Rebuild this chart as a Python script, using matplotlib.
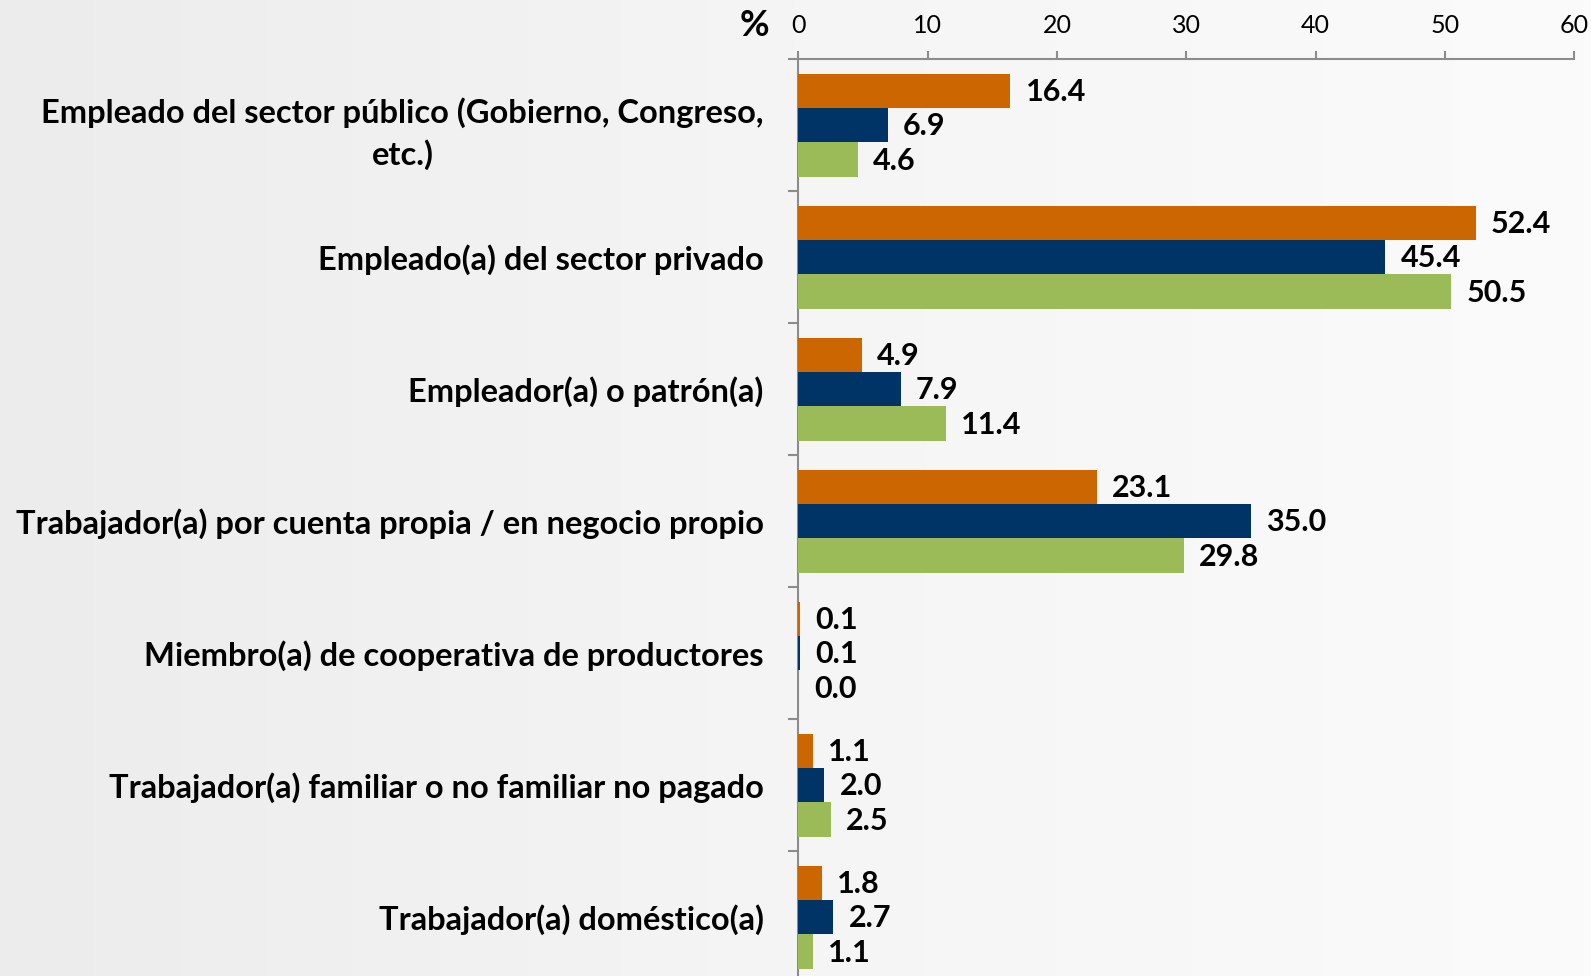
import matplotlib.pyplot as plt
import numpy as np

# datos (%)
categorias = [
    'Empleado del sector público (Gobierno, Congreso,\netc.)',
    'Empleado(a) del sector privado',
    'Empleador(a) o patrón(a)',
    'Trabajador(a) por cuenta propia / en negocio propio',
    'Miembro(a) de cooperativa de productores',
    'Trabajador(a) familiar o no familiar no pagado',
    'Trabajador(a) doméstico(a)',
]
serie_naranja = [16.4, 52.4, 4.9, 23.1, 0.1, 1.1, 1.8]
serie_azul = [6.9, 45.4, 7.9, 35.0, 0.1, 2.0, 2.7]
serie_verde = [4.6, 50.5, 11.4, 29.8, 0.0, 2.5, 1.1]
ticks_x = [0, 10, 20, 30, 40, 50, 60]

colores = ['#CC6600', '#003366', '#9BBB59']
gris = '#8c8c8c'

plt.rcParams['font.family'] = ['Lato', 'DejaVu Sans']

fig = plt.figure(figsize=(15.91, 9.76), dpi=100)

# fondo gris claro con degradado horizontal
fondo = fig.add_axes([0, 0, 1, 1], zorder=-10)
grad = np.linspace(0, 1, 256).reshape(1, -1)
fondo.imshow(grad, aspect='auto', cmap=plt.matplotlib.colors.LinearSegmentedColormap.from_list(
    'fondo', ['#ececec', '#f5f5f5', '#fbfbfb']), extent=[0, 1, 0, 1])
fondo.axis('off')

ax = fig.add_axes([798.5 / 1591, -0.0072, (1574 - 798.5) / 1591, 0.9395 + 0.0072])
ax.patch.set_alpha(0)

y = np.arange(len(categorias))
alto = 0.26
for k, (serie, col) in enumerate(zip([serie_naranja, serie_azul, serie_verde], colores)):
    pos = y + (k - 1) * alto
    ax.barh(pos, serie, height=alto, color=col, zorder=3)
    for p, v in zip(pos, serie):
        ax.annotate(f'{v:.1f}', (v, p), xytext=(11, -1), textcoords='offset points',
                    va='center', ha='left', fontsize=22, fontweight='bold', color='black')

ax.set_xlim(0, 60)
ax.set_ylim(len(categorias) - 0.5, -0.5)
ax.xaxis.tick_top()
ax.set_xticks(ticks_x)
ax.tick_params(axis='x', which='major', length=6, width=1.5, color=gris, pad=10,
               labelsize=18, labelcolor='black')

ax.set_yticks(y)
ax.set_yticklabels(categorias, fontsize=23.5, fontweight='bold', ha='right',
                   multialignment='center', linespacing=1.45)
ax.set_yticks(np.arange(len(categorias) + 1) - 0.5, minor=True)
ax.tick_params(axis='y', which='major', length=0, pad=25)
ax.tick_params(axis='y', which='minor', length=7, width=1.5, color=gris)
for t in ax.get_yticklabels():
    t.set_y(t.get_position()[1])

for lado in ['right', 'bottom']:
    ax.spines[lado].set_visible(False)
for lado in ['top', 'left']:
    ax.spines[lado].set_color(gris)
    ax.spines[lado].set_linewidth(1.5)

fig.text(754 / 1591, 1 - 25 / 976, '%', fontsize=26, fontweight='bold', ha='center', va='center')

fig.savefig('out.png', dpi=100)
